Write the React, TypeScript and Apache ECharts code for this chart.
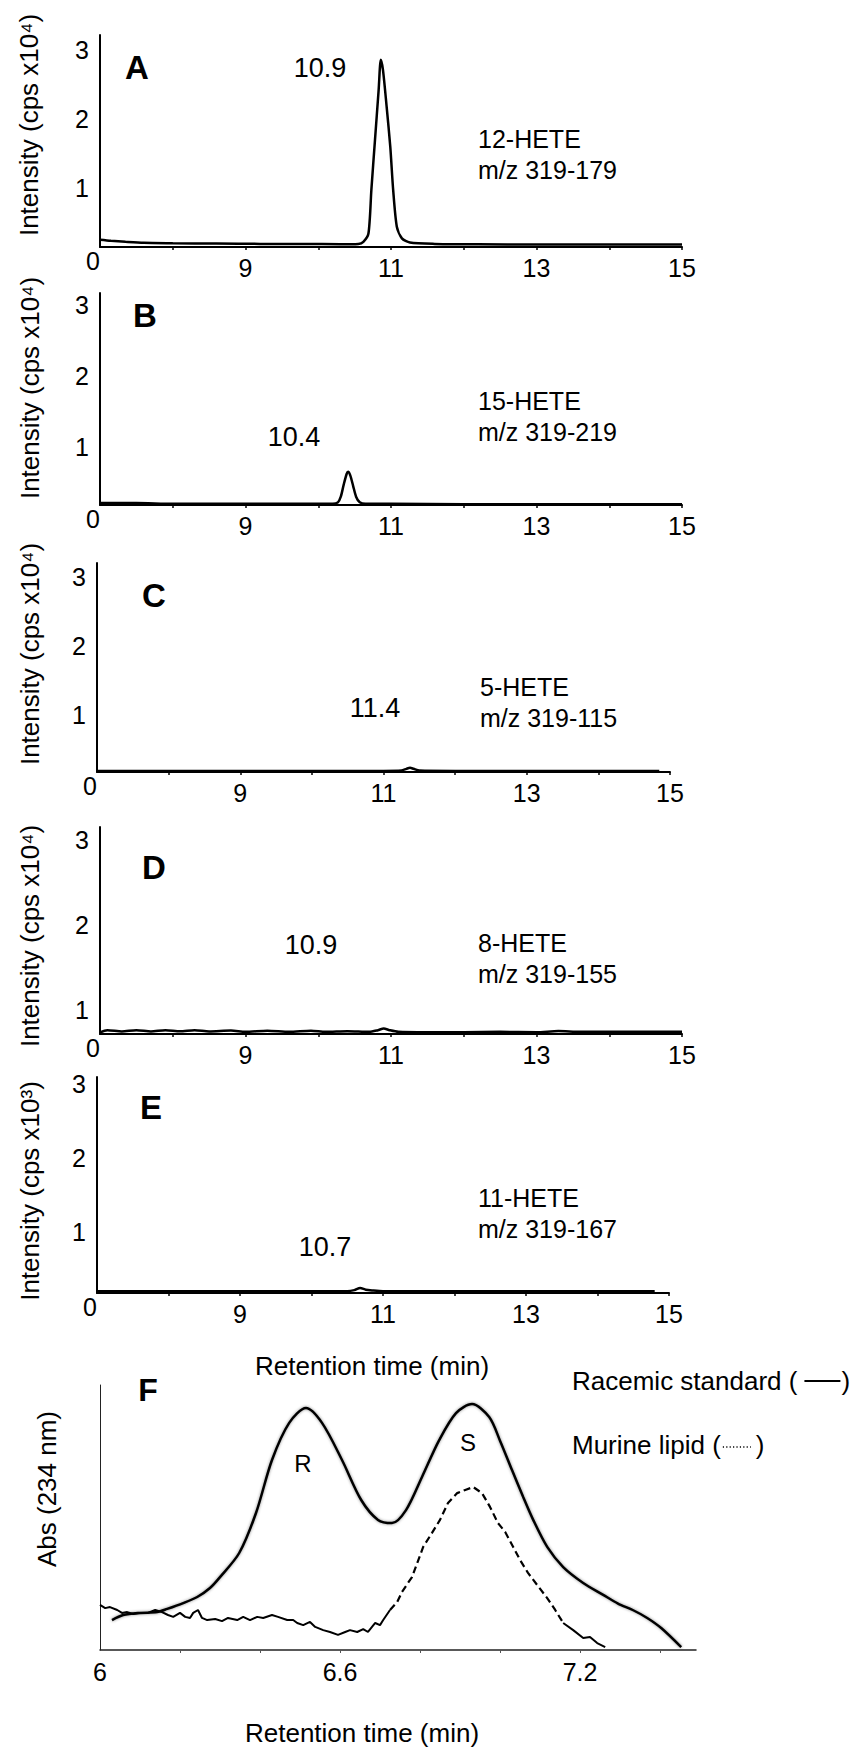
import React, { useEffect, useRef } from 'react';
import * as echarts from 'echarts';

const FONT = '"Liberation Sans", Arial, Helvetica, sans-serif';

// ---- tick values / labels ----
const xTickValues = [8, 9, 10, 11, 12, 13, 14, 15];
const xLabelValues = [9, 11, 13, 15];
const yLabelValues = [1, 2, 3];
const originLabel = '0';
const fTickValues = [6.2, 6.4, 6.6, 6.8, 7.0, 7.2, 7.4];
const fLabelValues = [6, 6.6, 7.2];

// ---- panel texts ----
const panelLetters = ['A', 'B', 'C', 'D', 'E'];
const peakLabels = ['10.9', '10.4', '11.4', '10.9', '10.7'];
const compounds = ['12-HETE', '15-HETE', '5-HETE', '8-HETE', '11-HETE'];
const transitions = ['m/z 319-179', 'm/z 319-219', 'm/z 319-115', 'm/z 319-155', 'm/z 319-167'];
const yTitles = [
  'Intensity (cps x10⁴)',
  'Intensity (cps x10⁴)',
  'Intensity (cps x10⁴)',
  'Intensity (cps x10⁴)',
  'Intensity (cps x10³)',
];
const xTitle = 'Retention time (min)';
const fYTitle = 'Abs (234 nm)';
const enantiomerLabels = ['R', 'S'];
const legendNames = ['Racemic standard (', 'Murine lipid ('];

// ---- chromatogram traces [retention time (min), intensity] ----
const traceA = [
  [7.0, 0.25], [7.15, 0.235], [7.35, 0.22], [7.6, 0.205], [8.0, 0.2], [8.6, 0.195],
  [9.2, 0.19], [9.8, 0.19], [10.3, 0.185], [10.55, 0.19], [10.62, 0.22], [10.69, 0.34],
  [10.73, 0.97], [10.78, 1.7], [10.83, 2.42], [10.86, 2.86], [10.89, 2.71], [10.94, 2.18],
  [10.99, 1.6], [11.03, 0.97], [11.08, 0.44], [11.15, 0.27], [11.26, 0.21], [11.6, 0.19],
  [12.2, 0.185], [13.0, 0.18], [14.0, 0.18], [15.0, 0.18],
];
const traceB = [
  [7.0, 0.21], [7.5, 0.21], [8.0, 0.2], [9.0, 0.2], [9.8, 0.2], [10.2, 0.2], [10.27, 0.22],
  [10.31, 0.3], [10.35, 0.47], [10.39, 0.62], [10.41, 0.65], [10.44, 0.6], [10.48, 0.45],
  [10.52, 0.3], [10.57, 0.22], [10.65, 0.2], [11.0, 0.2], [12.0, 0.195], [13.0, 0.195],
  [14.0, 0.195], [15.0, 0.195],
];
const traceC = [
  [7.0, 0.19], [8.0, 0.19], [9.0, 0.19], [10.0, 0.19], [11.0, 0.19], [11.25, 0.195],
  [11.32, 0.22], [11.37, 0.235], [11.42, 0.22], [11.5, 0.195], [12.0, 0.19], [12.5, 0.19],
  [13.0, 0.19], [14.0, 0.19], [14.85, 0.19],
];
const traceD = [
  [7.0, 0.74], [7.1, 0.765], [7.3, 0.75], [7.5, 0.765], [7.7, 0.75], [7.9, 0.765],
  [8.1, 0.752], [8.3, 0.765], [8.5, 0.75], [8.8, 0.76], [9.0, 0.745], [9.3, 0.758],
  [9.6, 0.745], [9.9, 0.758], [10.1, 0.745], [10.4, 0.752], [10.7, 0.745], [10.82, 0.765],
  [10.9, 0.785], [10.98, 0.765], [11.1, 0.745], [11.5, 0.74], [12.0, 0.74], [12.5, 0.745],
  [13.0, 0.74], [13.3, 0.755], [13.6, 0.745], [14.0, 0.745], [14.5, 0.745], [15.0, 0.745],
];
const traceE = [
  [7.0, 0.2], [8.0, 0.2], [9.0, 0.2], [10.0, 0.2], [10.5, 0.2], [10.6, 0.215],
  [10.68, 0.245], [10.76, 0.22], [10.85, 0.21], [11.0, 0.2], [12.0, 0.2], [13.0, 0.2],
  [14.0, 0.2], [14.8, 0.2],
];
const traces = [traceA, traceB, traceC, traceD, traceE];

// ---- chiral HPLC traces [retention time (min), absorbance (relative)] ----
const racemicStandard = [
  [6.03, 0.113], [6.058, 0.132], [6.1, 0.14], [6.143, 0.143], [6.168, 0.155], [6.208, 0.177],
  [6.243, 0.2], [6.275, 0.234], [6.3, 0.275], [6.348, 0.366], [6.39, 0.517], [6.43, 0.717],
  [6.473, 0.857], [6.515, 0.913], [6.555, 0.857], [6.605, 0.717], [6.653, 0.566], [6.695, 0.491],
  [6.73, 0.479], [6.765, 0.528], [6.805, 0.653], [6.848, 0.792], [6.89, 0.894], [6.93, 0.928],
  [6.973, 0.879], [7.0, 0.79], [7.03, 0.679], [7.058, 0.577], [7.083, 0.491], [7.118, 0.389],
  [7.158, 0.313], [7.208, 0.253], [7.258, 0.208], [7.295, 0.175], [7.333, 0.15], [7.368, 0.121],
  [7.403, 0.083], [7.453, 0.011],
];
const murineLipid = [
  [6.0, 0.17], [6.013, 0.158], [6.025, 0.162], [6.043, 0.151], [6.055, 0.14], [6.068, 0.143],
  [6.083, 0.136], [6.1, 0.14], [6.12, 0.14], [6.138, 0.151], [6.155, 0.143], [6.17, 0.132],
  [6.183, 0.125], [6.2, 0.14], [6.213, 0.125], [6.225, 0.121], [6.233, 0.14], [6.245, 0.151],
  [6.255, 0.121], [6.268, 0.113], [6.288, 0.117], [6.305, 0.109], [6.32, 0.121], [6.343, 0.113],
  [6.358, 0.125], [6.375, 0.113], [6.393, 0.125], [6.408, 0.121], [6.43, 0.132], [6.445, 0.125],
  [6.468, 0.113], [6.483, 0.113], [6.493, 0.102], [6.508, 0.094], [6.525, 0.106], [6.538, 0.087],
  [6.558, 0.075], [6.575, 0.068], [6.595, 0.057], [6.613, 0.068], [6.625, 0.075], [6.643, 0.068],
  [6.658, 0.079], [6.67, 0.068], [6.688, 0.102], [6.7, 0.094], [6.708, 0.113], [6.725, 0.151],
  [6.743, 0.181], [6.755, 0.219], [6.77, 0.253], [6.78, 0.275], [6.793, 0.328], [6.808, 0.389],
  [6.83, 0.442], [6.85, 0.491], [6.87, 0.555], [6.893, 0.592], [6.913, 0.604], [6.933, 0.615],
  [6.955, 0.592], [6.975, 0.54], [6.995, 0.479], [7.013, 0.445], [7.033, 0.389], [7.05, 0.34],
  [7.07, 0.291], [7.093, 0.245], [7.118, 0.196], [7.138, 0.151], [7.158, 0.102], [7.183, 0.075],
  [7.208, 0.045], [7.225, 0.049], [7.243, 0.026], [7.263, 0.011],
];

// ---- layout (pixels) ----
const panels = [
  { left: 100, top: 35, width: 582, height: 212, yMin: 0.145, yMax: 3.22, letter: [137, 67], peak: [320, 68], comp: [478, 154], title: [29, 125] },
  { left: 100, top: 293, width: 582, height: 212, yMin: 0.183, yMax: 3.17, letter: [145, 315], peak: [294, 437], comp: [478, 416], title: [30, 388] },
  { left: 97, top: 563, width: 573, height: 209, yMin: 0.174, yMax: 3.2, letter: [154, 595], peak: [375, 708], comp: [480, 702], title: [30, 654] },
  { left: 100, top: 827, width: 582, height: 207, yMin: 0.72, yMax: 3.15, letter: [154, 867], peak: [311, 945], comp: [478, 958], title: [30, 936] },
  { left: 97, top: 1077, width: 572, height: 216, yMin: 0.176, yMax: 3.09, letter: [151, 1107], peak: [325, 1247], comp: [478, 1213], title: [30, 1191] },
];
const fGrid = { left: 100, top: 1385, width: 596, height: 265 };

function textW(txt: string, size: number) {
  const c = document.createElement('canvas').getContext('2d');
  if (!c) return txt.length * size * 0.5;
  c.font = `${size}px ${FONT}`;
  return c.measureText(txt).width;
}

export default function App() {
  const ref = useRef<HTMLDivElement>(null);

  useEffect(() => {
    if (!ref.current) return;
    const chart = echarts.init(ref.current, undefined, { renderer: 'svg' });

    const grids: any[] = [];
    const xAxes: any[] = [];
    const yAxes: any[] = [];
    const series: any[] = [];
    const graphics: any[] = [];

    panels.forEach((p, i) => {
      grids.push({ left: p.left, top: p.top, width: p.width, height: p.height, containLabel: false });
      xAxes.push({
        type: 'value', gridIndex: i, position: 'bottom', min: 7, max: 15,
        axisLine: { onZero: false, lineStyle: { color: '#000', width: 2 } },
        axisTick: { show: true, customValues: xTickValues, length: 3, lineStyle: { color: '#000', width: 1.5 } },
        axisLabel: { customValues: xLabelValues, margin: 8, fontSize: 25, color: '#000', fontFamily: FONT },
        splitLine: { show: false },
      });
      xAxes.push({
        type: 'value', gridIndex: i, position: 'bottom', offset: 0, min: 7, max: 15,
        axisLine: { show: false, onZero: false }, axisTick: { show: false },
        axisLabel: { customValues: [7], formatter: () => originLabel, margin: 1, align: 'right', fontSize: 25, color: '#000', fontFamily: FONT },
        splitLine: { show: false },
      });
      yAxes.push({
        type: 'value', gridIndex: i, min: p.yMin, max: p.yMax,
        axisLine: { show: true, onZero: false, lineStyle: { color: '#000', width: 2 } },
        axisTick: { show: false },
        axisLabel: { customValues: yLabelValues, margin: 11, fontSize: 25, color: '#000', fontFamily: FONT },
        splitLine: { show: false },
      });
      series.push({
        type: 'line', xAxisIndex: 2 * i, yAxisIndex: i, data: traces[i],
        showSymbol: false, smooth: 0.25, lineStyle: { color: '#000', width: 2.5 }, z: 5,
      });
      graphics.push({
        type: 'text', x: p.letter[0], y: p.letter[1],
        style: { text: panelLetters[i], fontSize: 33, fontWeight: 'bold', fontFamily: FONT, fill: '#000', align: 'center', verticalAlign: 'middle' },
      });
      graphics.push({
        type: 'text', x: p.peak[0], y: p.peak[1],
        style: { text: peakLabels[i], fontSize: 27, fontFamily: FONT, fill: '#000', align: 'center', verticalAlign: 'middle' },
      });
      graphics.push({
        type: 'text', x: p.comp[0], y: p.comp[1],
        style: { text: compounds[i] + '\n' + transitions[i], fontSize: 25, lineHeight: 31, fontFamily: FONT, fill: '#000', align: 'left', verticalAlign: 'middle' },
      });
      graphics.push({
        type: 'text', x: p.title[0], y: p.title[1], rotation: Math.PI / 2,
        style: { text: yTitles[i], fontSize: 26, fontFamily: FONT, fill: '#000', align: 'center', verticalAlign: 'middle' },
      });
    });

    // Panel F
    const fi = panels.length;
    grids.push({ left: fGrid.left, top: fGrid.top, width: fGrid.width, height: fGrid.height });
    xAxes.push({
      type: 'value', gridIndex: fi, position: 'bottom', min: 6, max: 7.49,
      axisLine: { onZero: false, lineStyle: { color: '#222', width: 1.5 } },
      axisTick: { show: true, customValues: fTickValues, length: 3, lineStyle: { color: '#555', width: 1 } },
      axisLabel: { customValues: fLabelValues, margin: 9, fontSize: 25, color: '#000', fontFamily: FONT },
      splitLine: { show: false },
    });
    yAxes.push({
      type: 'value', gridIndex: fi, min: 0, max: 1,
      axisLine: { show: true, onZero: false, lineStyle: { color: '#222', width: 1 } },
      axisTick: { show: false }, axisLabel: { show: false }, splitLine: { show: false },
    });
    const fx = xAxes.length - 1;
    series.push({
      type: 'line', xAxisIndex: fx, yAxisIndex: fi, data: racemicStandard, showSymbol: false, smooth: 0.3,
      lineStyle: { color: '#000', width: 2.5, shadowColor: 'rgba(0,0,0,0.45)', shadowBlur: 3 }, z: 5,
    });
    const splitA = murineLipid.findIndex((d) => d[0] >= 6.725);
    const splitB = murineLipid.findIndex((d) => d[0] >= 7.158);
    series.push({
      type: 'line', xAxisIndex: fx, yAxisIndex: fi, data: murineLipid.slice(0, splitA + 1), showSymbol: false,
      lineStyle: { color: '#000', width: 2 }, z: 4,
    });
    series.push({
      type: 'line', xAxisIndex: fx, yAxisIndex: fi, data: murineLipid.slice(splitA, splitB + 1), showSymbol: false,
      lineStyle: { color: '#000', width: 2.2, type: [7, 4] }, z: 4,
    });
    series.push({
      type: 'line', xAxisIndex: fx, yAxisIndex: fi, data: murineLipid.slice(splitB), showSymbol: false,
      lineStyle: { color: '#000', width: 2 }, z: 4,
    });

    // F texts
    graphics.push({ type: 'text', x: 148, y: 1390, style: { text: 'F', fontSize: 32, fontWeight: 'bold', fontFamily: FONT, fill: '#000', align: 'center', verticalAlign: 'middle' } });
    graphics.push({ type: 'text', x: 303, y: 1463, style: { text: enantiomerLabels[0], fontSize: 24, fontFamily: FONT, fill: '#000', align: 'center', verticalAlign: 'middle' } });
    graphics.push({ type: 'text', x: 468, y: 1442, style: { text: enantiomerLabels[1], fontSize: 24, fontFamily: FONT, fill: '#000', align: 'center', verticalAlign: 'middle' } });
    graphics.push({ type: 'text', x: 372, y: 1366, style: { text: xTitle, fontSize: 26, fontFamily: FONT, fill: '#000', align: 'center', verticalAlign: 'middle' } });
    graphics.push({ type: 'text', x: 362, y: 1733, style: { text: xTitle, fontSize: 26, fontFamily: FONT, fill: '#000', align: 'center', verticalAlign: 'middle' } });
    graphics.push({ type: 'text', x: 47, y: 1489, rotation: Math.PI / 2, style: { text: fYTitle, fontSize: 26, fontFamily: FONT, fill: '#000', align: 'center', verticalAlign: 'middle' } });

    // legend
    const legSize = 26;
    const lx = 572;
    const ly1 = 1381;
    const ly2 = 1445;
    const w1 = textW(legendNames[0], legSize);
    const w2 = textW(legendNames[1], legSize);
    graphics.push({ type: 'text', x: lx, y: ly1, style: { text: legendNames[0], fontSize: legSize, fontFamily: FONT, fill: '#000', align: 'left', verticalAlign: 'middle' } });
    graphics.push({ type: 'line', shape: { x1: lx + w1 + 7, y1: ly1, x2: lx + w1 + 43, y2: ly1 }, style: { stroke: '#000', lineWidth: 2 } });
    graphics.push({ type: 'text', x: lx + w1 + 44, y: ly1, style: { text: ')', fontSize: legSize, fontFamily: FONT, fill: '#000', align: 'left', verticalAlign: 'middle' } });
    graphics.push({ type: 'text', x: lx, y: ly2, style: { text: legendNames[1], fontSize: legSize, fontFamily: FONT, fill: '#000', align: 'left', verticalAlign: 'middle' } });
    graphics.push({ type: 'line', shape: { x1: lx + w2 + 2, y1: ly2 + 2, x2: lx + w2 + 30, y2: ly2 + 2 }, style: { stroke: '#000', lineWidth: 1.5, lineDash: [1.2, 2.2] } });
    graphics.push({ type: 'text', x: lx + w2 + 35, y: ly2, style: { text: ')', fontSize: legSize, fontFamily: FONT, fill: '#000', align: 'left', verticalAlign: 'middle' } });

    chart.setOption({
      animation: false,
      backgroundColor: '#fff',
      textStyle: { fontFamily: FONT },
      grid: grids,
      xAxis: xAxes,
      yAxis: yAxes,
      series,
      graphic: graphics,
    });

    return () => chart.dispose();
  }, []);

  return (
    <div
      ref={ref}
      style={{ position: 'absolute', left: 0, top: 0, width: 868, height: 1749, background: '#fff' }}
    />
  );
}
